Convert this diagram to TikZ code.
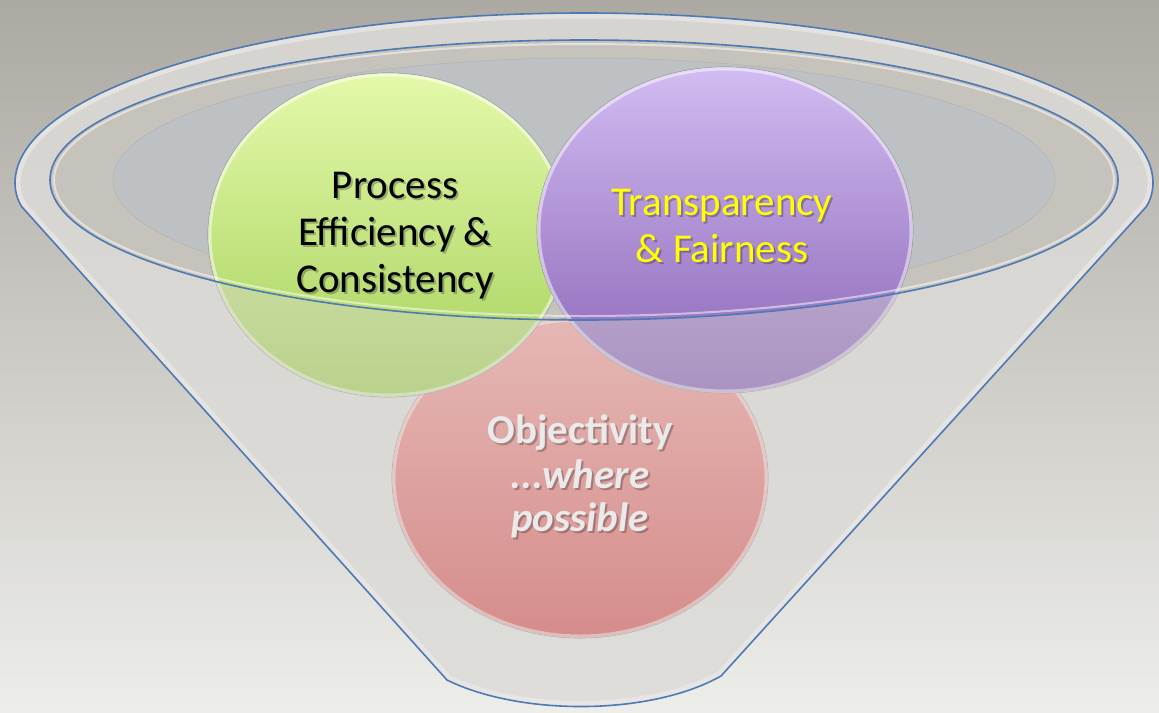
\documentclass[tikz,border=0pt]{standalone}
\usepackage{fontspec}
\setmainfont{Carlito}
\definecolor{bgT}{HTML}{ACA9A2}
\definecolor{bgB}{HTML}{EDEDEA}
\definecolor{bodyT}{HTML}{D6D4D0}
\definecolor{bodyB}{HTML}{E4E4E2}
\definecolor{innerdark}{HTML}{C6C3BC}
\definecolor{opening}{HTML}{BDC1C4}
\definecolor{rimblue}{HTML}{4E79B2}
\definecolor{greenT}{HTML}{E4F9AA}
\definecolor{greenB}{HTML}{A6D15C}
\definecolor{purpT}{HTML}{D2BCF2}
\definecolor{purpB}{HTML}{8A64B6}
\definecolor{pinkT}{HTML}{F2A4A2}
\definecolor{pinkB}{HTML}{D45A5A}
\definecolor{ballline}{HTML}{8A8A86}
\definecolor{txtyellow}{HTML}{FFFF00}
\definecolor{txtgrey}{HTML}{EAEAEA}
\newcommand\shtext[5]{%
  \node[#4, anchor=base, text=black, opacity=0.25] (#1s) at ({#2+2},{#3+2}) {#5};
  \node[#4, anchor=base] (#1) at (#2,#3) {#5};}
\newcommand\funnelpath{(22,207) -- (447,680) .. controls (520,716) and (650,716) .. (721,676) -- (1146,207) .. controls (1151,200) and (1153,190) .. (1153,183) arc[start angle=0, end angle=180, x radius=569pt, y radius=170pt] .. controls (15,190) and (17,200) .. (22,207) -- cycle}
\begin{document}
\begin{tikzpicture}[x=1pt,y=-1pt,
  lbl/.style={font=\fontsize{41}{47}\selectfont, inner sep=0pt},
  ball/.style={draw=ballline, line width=0.7pt},
  rim/.style={draw=rimblue, line width=1.6pt},
  glass/.style={fill=bodyT, fill opacity=0.42}]
\useasboundingbox (0,0) rectangle (1159,712);
% background
\shade[top color=bgT, bottom color=bgB] (0,0) rectangle (1159,712);
% funnel body
\shade[top color=bodyT, bottom color=bodyB] \funnelpath;
\begin{scope}
  \clip \funnelpath;
  \draw[white, line width=11pt, opacity=0.6] \funnelpath;
\end{scope}
% inside of funnel
\fill[innerdark] (584,180) ellipse[x radius=534pt, y radius=140pt];
\fill[opening, draw=black!30, line width=0.5pt] (584,180) ellipse[x radius=471pt, y radius=122pt];
% balls
\shade[ball, top color=pinkT, bottom color=pinkB] (580,478) ellipse[x radius=188pt, y radius=160pt];
\begin{scope}
  \clip (580,478) ellipse[x radius=188pt, y radius=160pt];
  \draw[white, opacity=0.5, line width=7pt] (580,478) ellipse[x radius=188pt, y radius=160pt];
\end{scope}
\shade[ball, top color=greenT, bottom color=greenB] (388,235) ellipse[x radius=180pt, y radius=162pt];
\begin{scope}
  \clip (388,235) ellipse[x radius=180pt, y radius=162pt];
  \draw[white, opacity=0.5, line width=7pt] (388,235) ellipse[x radius=180pt, y radius=162pt];
\end{scope}
\shade[ball, top color=purpT, bottom color=purpB] (725,230) ellipse[x radius=188pt, y radius=163pt];
\begin{scope}
  \clip (725,230) ellipse[x radius=188pt, y radius=163pt];
  \draw[white, opacity=0.5, line width=7pt] (725,230) ellipse[x radius=188pt, y radius=163pt];
\end{scope}
% glass front of funnel
\fill[glass, even odd rule] \funnelpath (584,180) ellipse[x radius=534pt, y radius=140pt];
% outlines
\draw[rim] \funnelpath;
\draw[white, opacity=0.5, line width=2pt] (584,180) ellipse[x radius=530pt, y radius=136pt];
\draw[rim] (584,180) ellipse[x radius=534pt, y radius=140pt];
% texts
\shtext{p1}{395}{198}{lbl, text=black}{Process}
\shtext{p2}{395}{245}{lbl, text=black}{Efficiency \&}
\shtext{p3}{395}{292}{lbl, text=black}{Consistency}
\shtext{t1}{722}{215}{lbl, text=txtyellow}{Transparency}
\shtext{t2}{722}{262}{lbl, text=txtyellow}{\& Fairness}
\shtext{o1}{580}{443}{lbl, text=txtgrey, font=\fontsize{41}{47}\selectfont\bfseries}{Objectivity}
\shtext{o2}{580}{488}{lbl, text=txtgrey, font=\fontsize{41}{47}\selectfont\bfseries\itshape}{...where}
\shtext{o3}{580}{531}{lbl, text=txtgrey, font=\fontsize{41}{47}\selectfont\bfseries\itshape}{possible}
\end{tikzpicture}
\end{document}
